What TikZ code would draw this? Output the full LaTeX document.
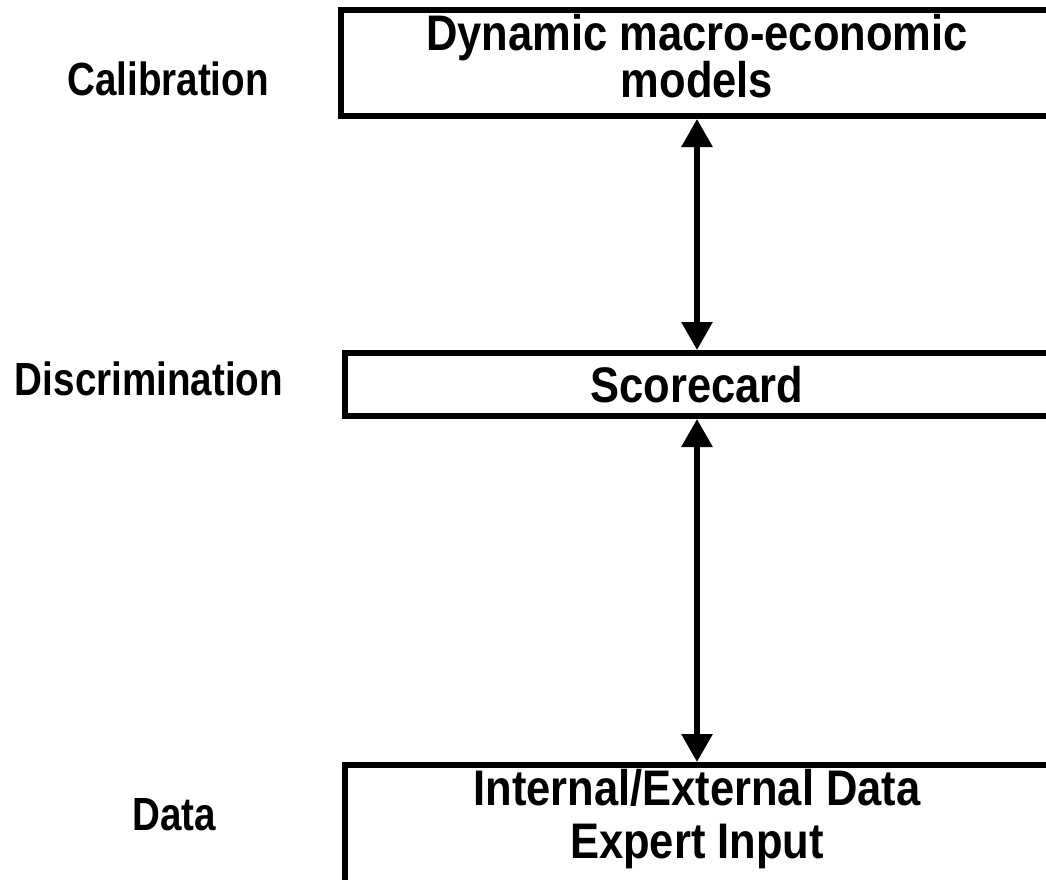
\documentclass[tikz,border=0pt]{standalone}
\usepackage{fontspec}
\setmainfont{Liberation Sans}
\newfontfamily\boxfont[FakeStretch=0.87]{Liberation Sans}
\newfontfamily\labelfont[FakeStretch=0.83]{Liberation Sans}
\usepackage{tikz}
\usetikzlibrary{arrows.meta, positioning}

\begin{document}
\begin{tikzpicture}[
    x=1pt, y=-1pt,
    level/.style={
        draw,
        line width=6pt,
        inner sep=0pt
    },
    boxtext/.style={
        align=center,
        inner sep=0pt,
        font=\boxfont\bfseries\fontsize{50}{43}\selectfont
    },
    tier/.style={
        inner sep=0pt,
        font=\labelfont\bfseries\fontsize{46.5}{46}\selectfont
    },
    link/.style={
        {Triangle[width=30pt,length=28pt]}-{Triangle[width=30pt,length=28pt]},
        line width=6pt
    }
]
\useasboundingbox (0,0) rectangle (1046,879);
\clip (0,0) rectangle (1046,879);

% Boxes
\node[level, minimum width=712, minimum height=106] (models) at (697,63) {};
\node[boxtext] (modelstext) at (697,56) {Dynamic macro-economic\\models};

\node[level, minimum width=704, minimum height=63, boxtext] (score) at (697,384.5) {Scorecard};

\node[level, minimum width=704, minimum height=165] (data) at (697,847.5) {};
\node[boxtext, font=\boxfont\bfseries\fontsize{50}{53}\selectfont] (datatext) at (697,819) {Internal/External Data\\Expert Input};

% Tier labels
\node[tier] (calib) at (168,79) {Calibration};
\node[tier] (discr) at (149,379) {Discrimination};
\node[tier] (dlabel) at (174,815) {Data};

% Arrows
\draw[link] (models.south) -- (score.north);
\draw[link] (score.south) -- (data.north);

\end{tikzpicture}
\end{document}
